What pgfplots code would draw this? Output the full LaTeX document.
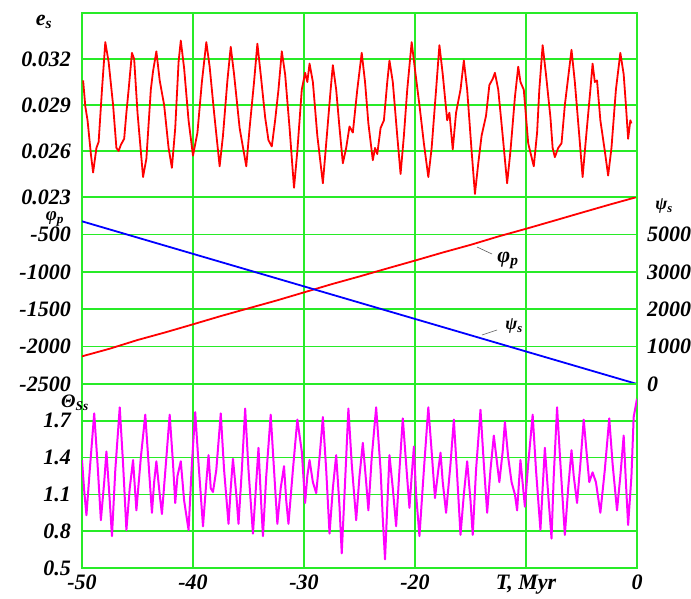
\documentclass[border=0pt]{standalone}
\usepackage{pgfplots}
\pgfplotsset{compat=1.18}
\usepackage{fontspec}
\setmainfont{Liberation Serif}
\definecolor{gridgreen}{RGB}{40,235,40}
\definecolor{cred}{RGB}{255,0,0}
\definecolor{cblue}{RGB}{0,0,255}
\definecolor{cmag}{RGB}{255,0,255}
\pgfplotsset{
  panel/.style={
    scale only axis, width=555bp,
    xmin=-50, xmax=0,
    xtick={-50,-40,-30,-20,-10,0},
    grid=major,
    grid style={gridgreen, line width=1.5bp},
    axis line style={gridgreen, line width=1.5bp},
    major tick length=0pt,
    scaled y ticks=false,
    tick label style={font=\fontsize{22bp}{26bp}\selectfont\bfseries\itshape, inner sep=1bp},
    /pgf/number format/assume math mode=true,
    yticklabel style={xshift=-10bp},
    xticklabel style={yshift=-6bp},
    clip=true,
  }
}
\begin{document}
\begin{tikzpicture}
\path[use as bounding box] (0bp,0bp) rectangle (691bp,-599bp);

% ---------------- top panel: e_s ----------------
\begin{axis}[panel, at={(82bp,-13bp)}, anchor=north west, height=184bp,
  ymin=0.023, ymax=0.035,
  ytick={0.023,0.026,0.029,0.032},
  yticklabels={0.023,0.026,0.029,0.032},
  xticklabels={}]
\addplot[cred, line width=1.8bp, line join=round] coordinates {
(-49.9,0.0306) (-49.7,0.0289) (-49.5,0.0280) (-49.2,0.0258) (-49.0,0.0246) (-48.7,0.0262) (-48.5,0.0266)
(-48.2,0.0300) (-47.9,0.0331) (-47.6,0.0318) (-47.2,0.0290) (-46.9,0.0262) (-46.7,0.0260) (-46.5,0.0264)
(-46.2,0.0268) (-46.0,0.0285) (-45.8,0.0300) (-45.5,0.0324) (-45.3,0.0320) (-45.0,0.0285) (-44.5,0.0243)
(-44.2,0.0255) (-43.8,0.0300) (-43.6,0.0312) (-43.3,0.0325) (-43.0,0.0306) (-42.6,0.0290) (-42.2,0.0262)
(-41.9,0.0249) (-41.6,0.0275) (-41.3,0.0318) (-41.1,0.0332) (-40.8,0.0314) (-40.4,0.0280) (-40.0,0.0257)
(-39.6,0.0272) (-39.2,0.0305) (-38.8,0.0331) (-38.5,0.0315) (-38.1,0.0285) (-37.6,0.0250) (-37.3,0.0270)
(-36.9,0.0306) (-36.6,0.0328) (-36.3,0.0310) (-35.8,0.0275) (-35.2,0.0250) (-34.9,0.0275) (-34.5,0.0305)
(-34.2,0.0330) (-33.9,0.0310) (-33.5,0.0282) (-33.2,0.0267) (-32.9,0.0263) (-32.6,0.0280) (-32.3,0.0300)
(-32.0,0.0325) (-31.7,0.0310) (-31.3,0.0275) (-30.9,0.0236) (-30.6,0.0260) (-30.2,0.0300) (-29.9,0.0311)
(-29.7,0.0305) (-29.5,0.0317) (-29.2,0.0305) (-28.8,0.0270) (-28.3,0.0239) (-28.0,0.0265) (-27.6,0.0300)
(-27.4,0.0316) (-27.1,0.0300) (-26.8,0.0275) (-26.5,0.0252) (-26.2,0.0262) (-25.9,0.0276) (-25.6,0.0272)
(-25.2,0.0300) (-24.8,0.0324) (-24.5,0.0305) (-24.2,0.0278) (-23.8,0.0254) (-23.6,0.0262) (-23.4,0.0258)
(-23.1,0.0275) (-22.8,0.0280) (-22.5,0.0305) (-22.3,0.0319) (-22.0,0.0305) (-21.6,0.0270) (-21.3,0.0245)
(-21.0,0.0270) (-20.7,0.0300) (-20.3,0.0331) (-20.0,0.0313) (-19.6,0.0290) (-19.2,0.0265) (-18.8,0.0243)
(-18.5,0.0262) (-18.1,0.0300) (-17.8,0.0329) (-17.5,0.0310) (-17.1,0.0280) (-16.9,0.0285) (-16.6,0.0261)
(-16.3,0.0285) (-15.9,0.0300) (-15.6,0.0319) (-15.3,0.0300) (-14.9,0.0260) (-14.6,0.0232) (-14.3,0.0252)
(-14.0,0.0270) (-13.6,0.0283) (-13.3,0.0303) (-13.0,0.0307) (-12.8,0.0311) (-12.5,0.0300) (-12.1,0.0270)
(-11.7,0.0239) (-11.4,0.0260) (-11.0,0.0295) (-10.7,0.0315) (-10.5,0.0305) (-10.2,0.0300) (-9.8,0.0265)
(-9.3,0.0250) (-9.0,0.0272) (-8.8,0.0300) (-8.5,0.0329) (-8.2,0.0310) (-7.8,0.0282) (-7.6,0.0262)
(-7.4,0.0256) (-7.1,0.0262) (-6.8,0.0265) (-6.5,0.0290) (-6.2,0.0308) (-5.9,0.0326) (-5.6,0.0305)
(-5.2,0.0270) (-4.9,0.0243) (-4.6,0.0268) (-4.2,0.0300) (-4.0,0.0317) (-3.8,0.0305) (-3.6,0.0306)
(-3.3,0.0280) (-2.9,0.0260) (-2.6,0.0244) (-2.3,0.0262) (-1.9,0.0300) (-1.5,0.0324) (-1.2,0.0310)
(-1.0,0.0290) (-0.8,0.0268) (-0.6,0.0280) (-0.5,0.0278)
};
\end{axis}

% ---------------- middle panel: phi_p (left) ----------------
\begin{axis}[panel, at={(82bp,-197bp)}, anchor=north west, height=187bp,
  ymin=-2500, ymax=0,
  ytick={-2500,-2000,-1500,-1000,-500},
  yticklabels={-2500,-2000,-1500,-1000,-500},
  xticklabels={}]
\addplot[cred, line width=1.8bp, line join=round] coordinates {
(-50,-2130) (-47.5,-2028) (-45,-1912) (-42.5,-1810) (-40,-1702) (-37.5,-1592) (-35,-1488)
(-32.5,-1385) (-30,-1275) (-27.5,-1165) (-25,-1062) (-22.5,-955) (-20,-850) (-17.5,-742)
(-15,-640) (-12.5,-528) (-10,-425) (-7.5,-318) (-5,-210) (-2.5,-103) (0,0)
};
\end{axis}
% right axis: psi_s
\begin{axis}[scale only axis, width=555bp, height=187bp,
  at={(82bp,-197bp)}, anchor=north west,
  xmin=-50, xmax=0, ymin=0, ymax=5000,
  axis x line=none, axis y line*=right,
  axis line style={gridgreen, line width=1.5bp},
  major tick length=0pt,
  ytick={0,1000,2000,3000,4000},
  yticklabels={0,1000,2000,3000,5000},
  tick label style={font=\fontsize{22bp}{26bp}\selectfont\bfseries\itshape, inner sep=1bp},
  yticklabel style={xshift=9bp},
  /pgf/number format/assume math mode=true]
\addplot[cblue, line width=1.8bp] coordinates {
(-50,4350) (-40,3480) (-30,2610) (-20,1740) (-10,870) (0,0)
};
\end{axis}

% ---------------- bottom panel: Theta_Ss ----------------
\begin{axis}[panel, at={(82bp,-384bp)}, anchor=north west, height=184bp,
  ymin=0.5, ymax=2.0,
  ytick={0.5,0.8,1.1,1.4,1.7},
  yticklabels={0.5,0.8,1.1,1.4,1.7},
  xticklabels={-50,-40,-30,-20,{T, Myr},0}]
\addplot[cmag, line width=2bp, line join=round] coordinates {
(-50.0,1.38) (-49.8,1.13) (-49.6,0.93) (-49.3,1.30) (-48.9,1.76) (-48.6,1.35) (-48.3,0.89) (-48.0,1.20)
(-47.8,1.45) (-47.5,1.05) (-47.3,0.76) (-47.0,1.30) (-46.6,1.81) (-46.3,1.35) (-46.0,0.81) (-45.7,1.15)
(-45.4,1.38) (-45.1,0.97) (-44.7,1.40) (-44.3,1.75) (-44.0,1.35) (-43.7,0.95) (-43.5,1.20) (-43.3,1.37)
(-43.0,1.10) (-42.8,0.94) (-42.4,1.40) (-42.1,1.75) (-41.8,1.35) (-41.6,1.03) (-41.4,1.25) (-41.1,1.37)
(-40.8,1.05) (-40.4,0.81) (-40.1,1.35) (-39.8,1.77) (-39.5,1.35) (-39.1,0.84) (-38.8,1.20) (-38.6,1.42)
(-38.4,1.15) (-38.2,1.12) (-37.9,1.30) (-37.5,1.76) (-37.2,1.30) (-36.8,0.86) (-36.6,1.15) (-36.4,1.39)
(-36.1,1.10) (-35.9,0.86) (-35.6,1.30) (-35.3,1.80) (-35.0,1.30) (-34.6,0.78) (-34.3,1.20) (-34.1,1.48)
(-33.9,1.10) (-33.7,0.76) (-33.4,1.25) (-33.0,1.75) (-32.7,1.30) (-32.4,0.86) (-32.1,1.15) (-31.8,1.33)
(-31.6,1.05) (-31.4,0.86) (-31.0,1.30) (-30.6,1.71) (-30.2,1.45) (-29.9,1.03) (-29.7,1.25) (-29.5,1.38)
(-29.2,1.20) (-28.9,1.11) (-28.6,1.40) (-28.3,1.73) (-28.0,1.30) (-27.7,0.78) (-27.4,1.15) (-27.1,1.42)
(-26.8,1.00) (-26.6,0.62) (-26.3,1.20) (-26.0,1.80) (-25.7,1.35) (-25.3,0.89) (-25.0,1.25) (-24.7,1.52)
(-24.4,1.20) (-24.2,0.97) (-23.9,1.40) (-23.5,1.81) (-23.1,1.30) (-22.9,0.90) (-22.7,0.57) (-22.5,1.00)
(-22.3,1.42) (-22.0,1.15) (-21.7,0.84) (-21.4,1.30) (-21.1,1.72) (-20.8,1.35) (-20.5,0.99) (-20.3,1.25)
(-20.1,1.49) (-19.9,1.10) (-19.6,0.76) (-19.2,1.30) (-18.8,1.81) (-18.5,1.45) (-18.2,1.07) (-17.9,1.30)
(-17.7,1.44) (-17.5,1.20) (-17.2,0.95) (-16.8,1.35) (-16.5,1.71) (-16.2,1.25) (-15.9,0.77) (-15.6,1.10)
(-15.3,1.37) (-15.0,1.05) (-14.8,0.77) (-14.5,1.30) (-14.1,1.79) (-13.8,1.35) (-13.5,0.95) (-13.2,1.30)
(-12.9,1.58) (-12.6,1.35) (-12.4,1.20) (-12.1,1.45) (-11.9,1.69) (-11.6,1.40) (-11.3,1.20) (-11.0,1.10)
(-10.8,0.97) (-10.5,1.38) (-10.1,1.00) (-9.8,1.35) (-9.4,1.75) (-9.1,1.30) (-8.7,0.81) (-8.5,1.15)
(-8.3,1.48) (-8.0,1.10) (-7.7,0.74) (-7.5,1.25) (-7.2,1.81) (-6.9,1.35) (-6.5,0.77) (-6.2,1.15)
(-5.9,1.46) (-5.7,1.25) (-5.4,1.03) (-5.1,1.35) (-4.8,1.71) (-4.5,1.40) (-4.3,1.20) (-4.0,1.28)
(-3.7,1.20) (-3.3,0.95) (-2.9,1.30) (-2.5,1.72) (-2.2,1.35) (-1.8,0.97) (-1.5,1.25) (-1.2,1.58)
(-1.0,1.20) (-0.8,0.85) (-0.5,1.25) (-0.3,1.73) (0.0,1.88)
};
\end{axis}

% ---------------- labels ----------------
\begin{scope}[every node/.style={font=\fontsize{22bp}{26bp}\selectfont\bfseries\itshape, inner sep=0pt}]
\node at (44bp,-22bp) {e\textsubscript{s}};
\node at (55bp,-219bp) {\fontsize{19bp}{21bp}\selectfont φ\textsubscript{p}};
\node at (75bp,-403bp) {\fontsize{19bp}{21bp}\selectfont Θ\textsubscript{Ss}};
\node at (664bp,-206bp) {\fontsize{18bp}{20bp}\selectfont ψ\textsubscript{s}};
\node at (508bp,-260bp) {φ\textsubscript{p}};
\node at (514bp,-326bp) {\fontsize{18bp}{20bp}\selectfont ψ\textsubscript{s}};
\end{scope}
\draw[gray!70!black, line width=0.6bp] (477bp,-247bp) -- (492bp,-254bp);
\draw[gray!70!black, line width=0.6bp] (482bp,-335bp) -- (497bp,-330bp);
\end{tikzpicture}
\end{document}
